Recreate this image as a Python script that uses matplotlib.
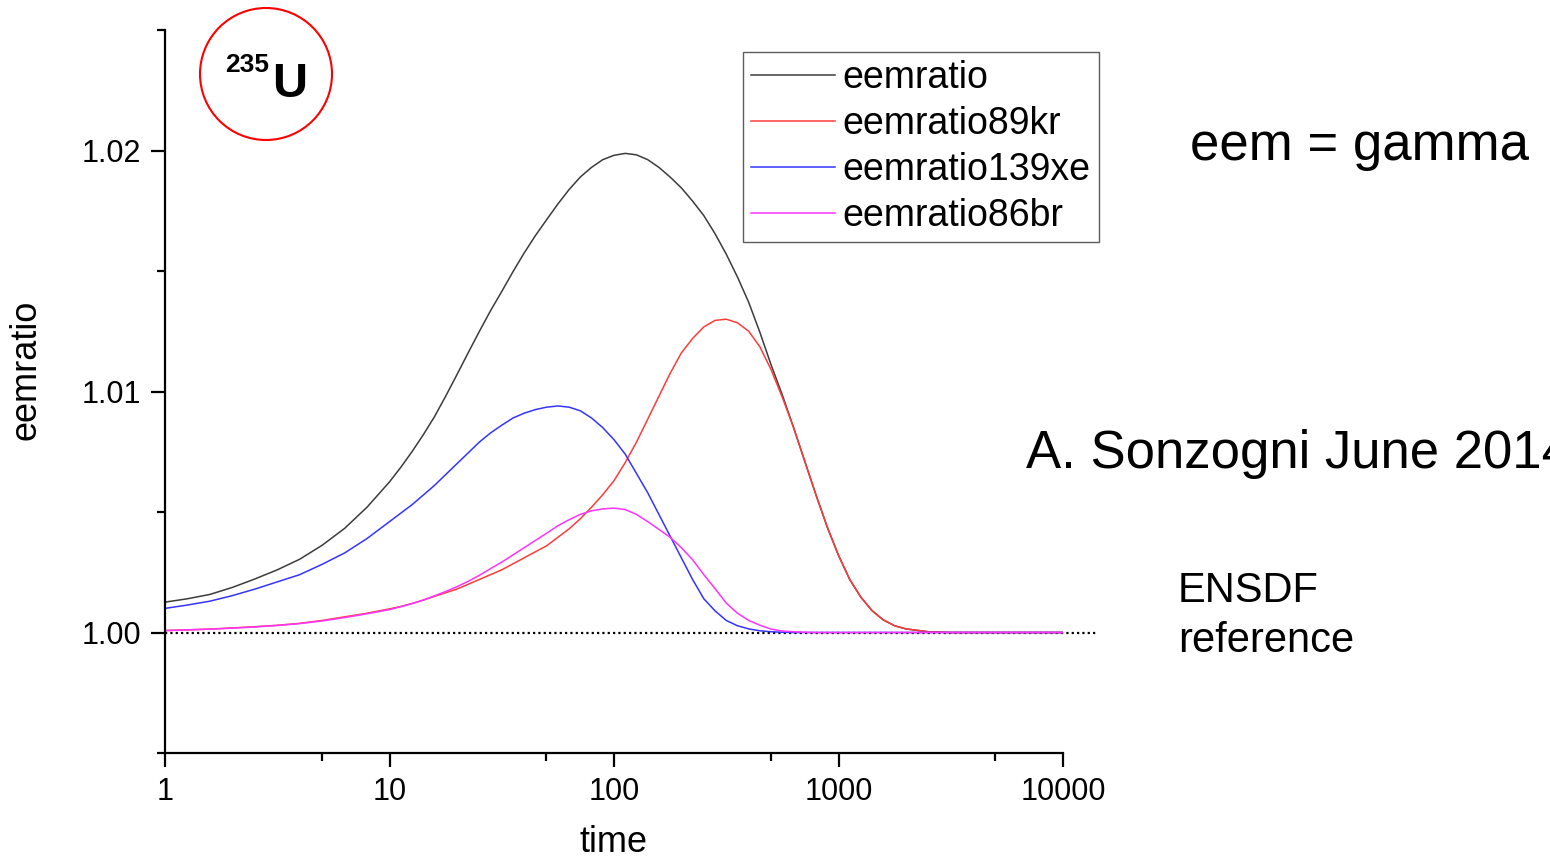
import numpy as np
import matplotlib
matplotlib.use("Agg")
import matplotlib.pyplot as plt
from matplotlib.patches import Ellipse
from matplotlib.ticker import FixedLocator, NullFormatter

plt.rcParams['font.family'] = ['Liberation Sans', 'DejaVu Sans']

# decay time grid (log spaced, denser through the peaks)
time = [1, 1.259, 1.585, 1.995, 2.512, 3.162, 3.981, 5.012, 6.31, 7.943, 10,
        11.22, 12.59, 14.13, 15.85, 17.78, 19.95, 22.39, 25.12, 28.18, 31.62,
        35.48, 39.81, 44.67, 50.12, 56.23, 63.1, 70.79, 79.43, 89.13, 100,
        112.2, 125.9, 141.3, 158.5, 177.8, 199.5, 223.9, 251.2, 281.8, 316.2,
        354.8, 398.1, 446.7, 501.2, 562.3, 631, 707.9, 794.3, 891.3, 1000,
        1122, 1259, 1413, 1585, 1778, 1995, 2512, 3162, 5012, 10000]

eemratio = [1.00126, 1.00140, 1.00158, 1.00187, 1.00222, 1.00260, 1.00304,
            1.00362, 1.00432, 1.00520, 1.00625,
            1.00685, 1.00750, 1.00820, 1.00895, 1.00980, 1.01069, 1.01160,
            1.01249, 1.01335, 1.01415, 1.01497, 1.01575, 1.01647, 1.01713,
            1.01778, 1.01838, 1.01890, 1.01930, 1.01962, 1.01980, 1.01988,
            1.01982, 1.01962, 1.01930, 1.01890, 1.01845, 1.01790, 1.01730,
            1.01655, 1.01570, 1.01475, 1.01370, 1.01245, 1.01110, 1.00985,
            1.00850, 1.00710, 1.00570, 1.00437, 1.00320, 1.00220, 1.00146,
            1.00090, 1.00052, 1.00028, 1.00015, 1.00003, 1.0, 1.0, 1.0]

eemratio89kr = [1.00008, 1.00011, 1.00014, 1.00019, 1.00024, 1.00030, 1.00038,
                1.00050, 1.00065, 1.00080, 1.00098,
                1.00108, 1.00120, 1.00134, 1.00150, 1.00165, 1.00180, 1.00200,
                1.00220, 1.00240, 1.00260, 1.00285, 1.00310, 1.00335, 1.00360,
                1.00395, 1.00430, 1.00472, 1.00520, 1.00572, 1.00630, 1.00705,
                1.00790, 1.00885, 1.00980, 1.01075, 1.01160, 1.01220, 1.01268,
                1.01295, 1.01300, 1.01285, 1.01250, 1.01185, 1.01090, 1.00975,
                1.00850, 1.00710, 1.00570, 1.00437, 1.00320, 1.00220, 1.00146,
                1.00090, 1.00052, 1.00028, 1.00015, 1.00003, 1.0, 1.0, 1.0]

eemratio139xe = [1.0010, 1.00114, 1.0013, 1.00153, 1.0018, 1.0021, 1.0024,
                 1.00283, 1.0033, 1.0039, 1.0046,
                 1.00495, 1.0053, 1.0057, 1.0061, 1.00655, 1.0070, 1.00745,
                 1.0079, 1.00828, 1.0086, 1.0089, 1.0091, 1.00925, 1.00935,
                 1.0094, 1.00935, 1.0092, 1.0089, 1.0085, 1.0080, 1.0074,
                 1.0066, 1.0058, 1.0049, 1.0040, 1.0031, 1.0022, 1.0014,
                 1.0009, 1.0005, 1.00028, 1.00015, 1.00007, 1.00003, 1.00001,
                 1.0, 1.0, 1.0, 1.0, 1.0, 1.0, 1.0, 1.0, 1.0, 1.0, 1.0, 1.0,
                 1.0, 1.0, 1.0]

eemratio86br = [1.00008, 1.00011, 1.00014, 1.00018, 1.00023, 1.00029, 1.00037,
                1.00048, 1.00062, 1.00078, 1.00095,
                1.00107, 1.00120, 1.00135, 1.00152, 1.00170, 1.00190, 1.00212,
                1.00237, 1.00265, 1.00292, 1.00322, 1.00352, 1.00382, 1.00412,
                1.00443, 1.00468, 1.00490, 1.00505, 1.00513, 1.00516, 1.00510,
                1.00490, 1.00460, 1.00428, 1.00395, 1.00352, 1.00302, 1.00240,
                1.00182, 1.00122, 1.00080, 1.00050, 1.00030, 1.00014, 1.00006,
                1.00003, 1.00001, 1.0, 1.0, 1.0, 1.0, 1.0, 1.0, 1.0, 1.0, 1.0,
                1.0, 1.0, 1.0, 1.0]

series = [("eemratio", eemratio, "#3c3c3c"),
          ("eemratio89kr", eemratio89kr, "#ff3b3b"),
          ("eemratio139xe", eemratio139xe, "#3434ff"),
          ("eemratio86br", eemratio86br, "#ff33ff")]

W, H = 1550, 861
fig = plt.figure(figsize=(W / 100, H / 100), dpi=100)
ax = fig.add_axes([165 / W, 1 - 753 / H, (1063 - 165) / W, (753 - 30) / H])

# reference line at unity
ax.plot([1, 14200], [1.0, 1.0], color="black", lw=1.6, ls=(0, (1, 1.4)),
        clip_on=False, zorder=1)

for name, vals, col in series:
    ax.plot(time, vals, color=col, lw=1.1, label=name, zorder=2)

ax.set_xscale("log")
ax.set_xlim(1, 10000)
ax.set_ylim(0.995, 1.025)

ax.xaxis.set_major_locator(FixedLocator([1, 10, 100, 1000, 10000]))
ax.xaxis.set_minor_locator(FixedLocator([5, 50, 500, 5000]))
ax.xaxis.set_minor_formatter(NullFormatter())
ax.set_xticklabels(["1", "10", "100", "1000", "10000"])
ax.yaxis.set_major_locator(FixedLocator([1.00, 1.01, 1.02]))
ax.yaxis.set_minor_locator(FixedLocator([0.995, 1.005, 1.015, 1.025]))
ax.set_yticklabels(["1.00", "1.01", "1.02"])

ax.tick_params(which="major", direction="out", length=10, width=1.6,
               labelsize=22, pad=7)
ax.tick_params(which="minor", direction="out", length=6, width=1.6)

for s in ["top", "right"]:
    ax.spines[s].set_visible(False)
for s in ["left", "bottom"]:
    ax.spines[s].set_linewidth(1.6)

ax.set_xlabel("time", fontsize=26)
ax.set_ylabel("eemratio", fontsize=26)
ax.xaxis.set_label_coords(0.5, -0.099)
ax.yaxis.set_label_coords(-0.135, 0.53)

leg = ax.legend(loc="upper left", bbox_to_anchor=(743 / W, 1 - 52 / H),
                bbox_transform=fig.transFigure, fontsize=27, frameon=True,
                fancybox=False, edgecolor="#333333", borderpad=0.21,
                handlelength=2.25, handletextpad=0.2, labelspacing=0.27,
                borderaxespad=0)
leg.get_frame().set_linewidth(1.0)

# isotope badge
fig.add_artist(Ellipse((266 / W, 1 - 74 / H), 132 / W, 132 / H, fill=False,
                       edgecolor="red", lw=1.5, transform=fig.transFigure))
fig.text(225 / W, 1 - 72 / H, "235", fontsize=19, fontweight="bold",
         ha="left", va="baseline")
fig.text(272 / W, 1 - 97 / H, "U", fontsize=35, fontweight="bold",
         ha="left", va="baseline")

fig.text(1190 / W, 1 - 160 / H, "eem = gamma", fontsize=38, ha="left",
         va="baseline")
fig.text(1026 / W, 1 - 468 / H, "A. Sonzogni June 2014", fontsize=38,
         ha="left", va="baseline")
fig.text(1178 / W, 1 - 602 / H, "ENSDF", fontsize=30, ha="left", va="baseline")
fig.text(1178 / W, 1 - 652 / H, "reference", fontsize=30, ha="left",
         va="baseline")

fig.savefig("out.png", dpi=100)
